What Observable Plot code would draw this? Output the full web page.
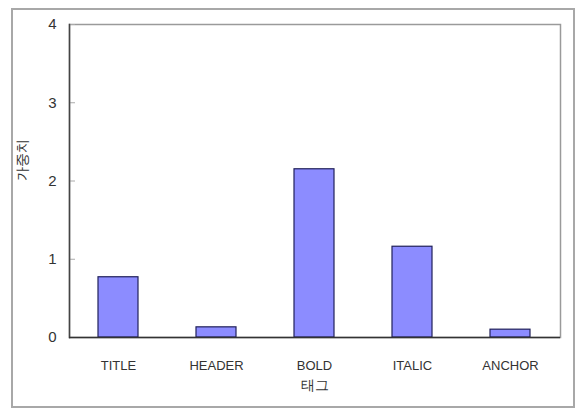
<!DOCTYPE html>
<html>
<head>
<meta charset="utf-8">
<script src="https://cdn.jsdelivr.net/npm/d3@7"></script>
<script src="https://cdn.jsdelivr.net/npm/@observablehq/plot@0.6"></script>
<style>
  html, body { margin: 0; padding: 0; background: #fff; }
  #wrap { position: relative; width: 575px; height: 408px; }
  #outer { position: absolute; left: 11px; top: 8px; width: 560px; height: 396px; border: 2px solid #a8a8a8; pointer-events: none; }
</style>
</head>
<body>
<div id="wrap"><div id="outer"></div></div>
<script>
const categories = ["TITLE", "HEADER", "BOLD", "ITALIC", "ANCHOR"];
const weights = [0.77, 0.13, 2.15, 1.16, 0.1];
const yTicks = [0, 1, 2, 3, 4];
const xTitle = "태그";
const yTitle = "가중치";

const data = categories.map((c, i) => ({tag: c, w: weights[i]}));

const chart = Plot.plot({
  width: 575,
  height: 408,
  marginLeft: 69,
  marginRight: 15,
  marginTop: 24,
  marginBottom: 71,
  style: {fontFamily: "Liberation Sans, Arial, sans-serif", fontSize: "13px", color: "#333", background: "transparent"},
  x: {domain: categories, paddingInner: 0.59, paddingOuter: 0.295, label: null},
  y: {domain: [0, 4], ticks: yTicks, label: null},
  marks: [
    Plot.frame({stroke: "#9a9a9a", strokeWidth: 1.5}),
    Plot.barY(data, {x: "tag", y: "w", fill: "#8c8cff", stroke: "#20205a", strokeWidth: 1.2}),
    Plot.axisY({ticks: yTicks, tickSize: -6, tickPadding: 19, stroke: "#aaa", fill: "#333", fontSize: 15, tickFormat: d => String(d)}),
    Plot.axisX({tickSize: 0, tickPadding: 23, fill: "#333", fontSize: 13}),
    Plot.frame({anchor: "left", stroke: "#444", strokeWidth: 1.5}),
    Plot.ruleY([0], {stroke: "#333", strokeWidth: 1.5}),
    Plot.text([yTitle], {frameAnchor: "left", dx: -47, rotate: -90, fontSize: 14, fill: "#333"}),
    Plot.text([xTitle], {frameAnchor: "bottom", dy: 52, fontSize: 14, fill: "#333"})
  ]
});
document.getElementById("wrap").appendChild(chart);
</script>
</body>
</html>
